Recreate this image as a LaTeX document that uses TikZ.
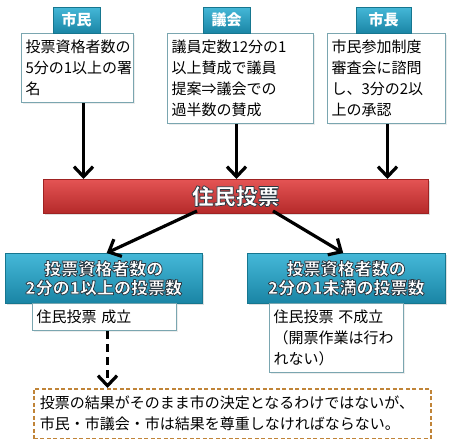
\documentclass[tikz,border=0pt]{standalone}
\usepackage{fontspec}
\setmainfont{Noto Sans CJK JP}
\usetikzlibrary{arrows.meta,calc,shadows}
\definecolor{tabtop}{HTML}{45B8D8}
\definecolor{tabbot}{HTML}{1A85A5}
\definecolor{tabline}{HTML}{16768F}
\definecolor{boxline}{HTML}{7AA6B0}
\definecolor{redtop}{HTML}{E45454}
\definecolor{redbot}{HTML}{B52A2A}
\definecolor{redline}{HTML}{9E2222}
\definecolor{dashline}{HTML}{C08438}
\newcommand{\olstart}{\special{pdf:literal direct 0.17 0.22 0.26 RG 0.75 w 1 j 2 Tr}}
\newcommand{\olend}{\special{pdf:literal direct 0 Tr}}
\begin{document}
\begin{tikzpicture}[x=1pt,y=-1pt,
  tabbox/.style={draw=tabline, top color=tabtop, bottom color=tabbot, minimum height=26pt, inner sep=0pt, text=white, font=\bfseries\fontsize{15}{15}\selectfont},
  txtbox/.style={draw=boxline, line width=1pt, fill=white, anchor=north west, align=left, inner xsep=4pt, inner ysep=2pt, font=\fontsize{15}{21}\selectfont, drop shadow={opacity=0.15, shadow xshift=1.5pt, shadow yshift=-1.5pt}},
  bluebox/.style={draw=tabline, top color=tabtop, bottom color=tabbot, anchor=north west, align=center, inner sep=0pt, text=white, font=\bfseries\fontsize{17}{19}\selectfont, drop shadow={opacity=0.25, shadow xshift=1.5pt, shadow yshift=-1.5pt}},
  redbar/.style={draw=redline, top color=redtop, bottom color=redbot, anchor=north west, inner sep=0pt, text=white, font=\bfseries\fontsize{22}{22}\selectfont, drop shadow={opacity=0.25, shadow xshift=1.5pt, shadow yshift=-1.5pt}},
  arr/.style={line width=3.2pt, -{Straight Barb[length=10pt,width=19pt,line width=3.2pt]}},
  dasharr/.style={line width=3.2pt, dash pattern=on 8pt off 5pt, -{Straight Barb[length=10pt,width=19pt,line width=3.2pt]}},
  notebox/.style={draw=dashline, line width=1.5pt, dash pattern=on 4pt off 2.5pt, anchor=north west, align=left, inner xsep=6pt, inner ysep=2pt, font=\fontsize{15}{21}\selectfont}
]
\useasboundingbox (0,0) rectangle (450,439);

% top text boxes
\node[txtbox, minimum width=112pt, minimum height=69pt, text width=104pt] (b1) at (21,33) {投票資格者数の\\5分の1以上の署\\名};
\node[txtbox, minimum width=146pt, minimum height=90pt, text width=138pt] (b2) at (167,33) {議員定数12分の1\\以上賛成で議員\\提案⇒議会での\\過半数の賛成};
\node[txtbox, minimum width=118pt, minimum height=90pt, text width=110pt] (b3) at (327,33) {市民参加制度\\審査会に諮問\\し、3分の2以\\上の承認};

% tabs
\node[tabbox, minimum width=47pt] (t1) at (76.5,20) {市民};
\node[tabbox, minimum width=47pt] (t2) at (226.5,20) {議会};
\node[tabbox, minimum width=55pt] (t3) at (383.5,20) {市長};

% red bar
\node[redbar, minimum width=385pt, minimum height=34pt] (bar) at (43,179) {\olstart 住民投票\olend};

% arrows to bar
\coordinate (a1) at ($(b1.south)+(6,0)$);
\coordinate (a2) at ($(b2.south)+(-4,0)$);
\coordinate (a3) at ($(b3.south)+(1,0)$);
\draw[arr] (a1) -- (a1 |- bar.north);
\draw[arr] (a2) -- (a2 |- bar.north);
\draw[arr] (a3) -- (a3 |- bar.north);

% result boxes
\node[bluebox, minimum width=197pt, minimum height=50pt] (r1) at (5,253) {\olstart 投票資格者数の\olend\\\olstart 2分の1以上の投票数\olend};
\node[bluebox, minimum width=198pt, minimum height=50pt] (r2) at (247,253) {\olstart 投票資格者数の\olend\\\olstart 2分の1未満の投票数\olend};

\coordinate (d1s) at (197,211);
\coordinate (d2s) at (273,211);
\coordinate (d1e) at ($(r1.north)+(3,0)$);
\coordinate (d2e) at ($(r2.north)+(-3,0)$);
\draw[arr] (d1s) -- (d1e);
\draw[arr] (d2s) -- (d2e);

% sub boxes
\node[txtbox, minimum width=144pt, minimum height=27pt, text width=136pt] (s1) at (32,303) {住民投票 成立};
\node[txtbox, minimum width=134pt, minimum height=69pt, text width=126pt] (s2) at (269,303) {住民投票 不成立\\（開票作業は行わ\\れない）};

% note
\node[notebox, minimum width=397pt, minimum height=50pt, text width=385pt] (note) at (33,388) {投票の結果がそのまま市の決定となるわけではないが、\\市民・市議会・市は結果を尊重しなければならない。};

\coordinate (e1) at ($(s1.south)+(3,0)$);
\draw[dasharr] (e1) -- (e1 |- note.north);
\end{tikzpicture}
\end{document}
